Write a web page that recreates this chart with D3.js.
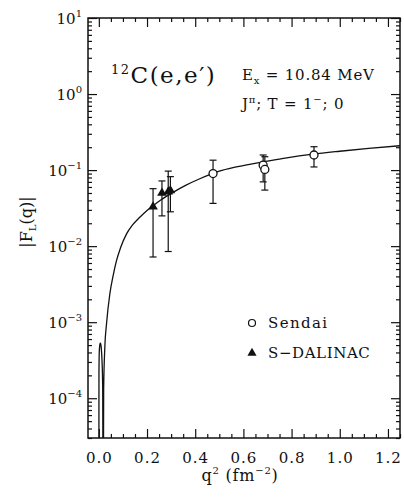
<!DOCTYPE html>
<html>
<head>
<meta charset="utf-8">
<script src="https://cdn.jsdelivr.net/npm/d3@7"></script>
<style>
  body { margin: 0; background: #fff; }
  svg text { font-family: "DejaVu Serif", serif; fill: #111; }
</style>
</head>
<body>
<div id="graph"></div>
<script>
// data

var xTicks = [0.0, 0.2, 0.4, 0.6, 0.8, 1.0, 1.2];
var xTickLabels = ["0.0", "0.2", "0.4", "0.6", "0.8", "1.0", "1.2"];
var yDecades = [1e1, 1e0, 1e-1, 1e-2, 1e-3, 1e-4];
var yExponents = ["1", "0", "\u22121", "\u22122", "\u22123", "\u22124"];

// theory curve, q^2 (fm^-2) vs |F_L(q)|
var curveQ2 = [0.0, 0.0005, 0.002, 0.005, 0.007, 0.010, 0.013, 0.016, 0.018,
  0.020, 0.025, 0.032, 0.046, 0.060, 0.073, 0.09, 0.115, 0.14, 0.17, 0.20,
  0.225, 0.26, 0.308, 0.36, 0.419, 0.50, 0.557, 0.62, 0.682, 0.78, 0.889,
  1.0, 1.12, 1.25];
var curveF = [1e-6, 2.2e-4, 4.2e-4, 5.2e-4, 5.3e-4, 4.6e-4, 3.2e-4, 1.4e-4, 1e-6,
  1.3e-4, 4.8e-4, 9.6e-4, 2.4e-3, 4.2e-3, 6.4e-3, 9.5e-3, 0.0145, 0.019, 0.024, 0.0295,
  0.034, 0.041, 0.051, 0.063, 0.077, 0.097, 0.108, 0.118, 0.128, 0.145, 0.162,
  0.177, 0.193, 0.209];

// Sendai (open circles)
var sendaiQ2 = [0.474, 0.682, 0.689, 0.893];
var sendaiF = [0.090, 0.116, 0.102, 0.158];
var sendaiLo = [0.0365, 0.070, 0.0546, 0.110];
var sendaiHi = [0.135, 0.158, 0.150, 0.203];

// S-DALINAC (filled triangles)
var dalQ2 = [0.225, 0.262, 0.288, 0.297];
var dalF = [0.033, 0.050, 0.052, 0.054];
var dalLo = [0.0072, 0.025, 0.0085, 0.0283];
var dalHi = [0.057, 0.072, 0.097, 0.082];

var svgWidth = 404;
var svgHeight = 497;
var plotL = 88, plotR = 400, plotT = 18, plotB = 438;

var svg = d3.select('#graph')
  .append('svg')
  .attr('width', svgWidth)
  .attr('height', svgHeight);

var x = d3.scaleLinear().domain([-0.045, 1.25]).range([plotL, plotR]);
var y = d3.scaleLog().domain([3e-5, 10]).range([plotB, plotT]);

// minor tick values
var yMinor = [];
for (var e = -5; e <= 0; e++) {
  for (var k = 2; k <= 9; k++) {
    var v = k * Math.pow(10, e);
    if (v >= 3e-5 && v <= 10) yMinor.push(v);
  }
}
var xMinor = [];
for (var i = 1; i <= 25; i++) {
  if (i % 4 !== 0) xMinor.push(i * 0.05);
}

function addAxis(axis, tx, ty) {
  var g = svg.append('g')
    .attr('transform', 'translate(' + tx + ',' + ty + ')')
    .call(axis);
  g.select('.domain').remove();
  g.selectAll('line').attr('stroke', '#111').attr('stroke-width', 1.2);
  return g;
}

// ticks point inwards on all four sides
addAxis(d3.axisLeft(y).tickValues(yDecades).tickSize(-9).tickFormat(''), plotL, 0);
addAxis(d3.axisLeft(y).tickValues(yMinor).tickSize(-4).tickFormat(''), plotL, 0);
addAxis(d3.axisRight(y).tickValues(yDecades).tickSize(-9).tickFormat(''), plotR, 0);
addAxis(d3.axisRight(y).tickValues(yMinor).tickSize(-4).tickFormat(''), plotR, 0);

var xb = addAxis(d3.axisBottom(x).tickValues(xTicks).tickSize(-9).tickPadding(14)
  .tickFormat(function (d, i) { return xTickLabels[i]; }), 0, plotB);
xb.selectAll('text').attr('font-size', 15).attr('letter-spacing', 1)
  .attr('font-family', '"DejaVu Serif", serif').attr('fill', '#111');
addAxis(d3.axisBottom(x).tickValues(xMinor).tickSize(-4).tickFormat(''), 0, plotB);
addAxis(d3.axisTop(x).tickValues(xTicks).tickSize(-9).tickFormat(''), 0, plotT);
addAxis(d3.axisTop(x).tickValues(xMinor).tickSize(-4).tickFormat(''), 0, plotT);

// frame
svg.append('rect')
  .attr('x', plotL).attr('y', plotT)
  .attr('width', plotR - plotL).attr('height', plotB - plotT)
  .attr('fill', 'none').attr('stroke', '#111').attr('stroke-width', 1.5);

// y tick labels as 10^n
yDecades.forEach(function (d, i) {
  var t = svg.append('text')
    .attr('x', plotL - 6)
    .attr('y', y(d) + 6)
    .attr('text-anchor', 'end')
    .attr('font-size', 15);
  t.append('tspan').text('10');
  t.append('tspan').attr('dy', -7).attr('font-size', 10).text(yExponents[i]);
});

// clip for the curve
svg.append('clipPath').attr('id', 'plotclip')
  .append('rect')
  .attr('x', plotL).attr('y', plotT)
  .attr('width', plotR - plotL).attr('height', plotB - plotT);

var curvePts = curveQ2.map(function (q, i) { return [q, curveF[i]]; });
var line = d3.line()
  .x(function (d) { return x(d[0]); })
  .y(function (d) { return y(d[1]); })
  .curve(d3.curveMonotoneX);

svg.append('path')
  .datum(curvePts)
  .attr('clip-path', 'url(#plotclip)')
  .attr('d', line)
  .attr('fill', 'none')
  .attr('stroke', '#111')
  .attr('stroke-width', 1.3);

// error bars
function errorBars(qs, lo, hi) {
  var g = svg.append('g').attr('stroke', '#111').attr('stroke-width', 1.2);
  qs.forEach(function (q, i) {
    var cx = x(q);
    g.append('line').attr('x1', cx).attr('x2', cx).attr('y1', y(lo[i])).attr('y2', y(hi[i]));
    g.append('line').attr('x1', cx - 3.5).attr('x2', cx + 3.5).attr('y1', y(lo[i])).attr('y2', y(lo[i]));
    g.append('line').attr('x1', cx - 3.5).attr('x2', cx + 3.5).attr('y1', y(hi[i])).attr('y2', y(hi[i]));
  });
}
errorBars(sendaiQ2, sendaiLo, sendaiHi);
errorBars(dalQ2, dalLo, dalHi);

svg.selectAll('circle.sendai')
  .data(sendaiQ2)
  .enter()
  .append('circle')
  .attr('class', 'sendai')
  .attr('cx', function (d) { return x(d); })
  .attr('cy', function (d, i) { return y(sendaiF[i]); })
  .attr('r', 4)
  .attr('fill', '#fff')
  .attr('stroke', '#111')
  .attr('stroke-width', 1.3);

var tri = d3.symbol().type(d3.symbolTriangle).size(40);
svg.selectAll('path.dal')
  .data(dalQ2)
  .enter()
  .append('path')
  .attr('class', 'dal')
  .attr('d', tri)
  .attr('transform', function (d, i) { return 'translate(' + x(d) + ',' + y(dalF[i]) + ')'; })
  .attr('fill', '#111');

// legend
svg.append('circle').attr('cx', 252).attr('cy', 323).attr('r', 3.5)
  .attr('fill', '#fff').attr('stroke', '#111').attr('stroke-width', 1.2);
svg.append('text').attr('x', 268).attr('y', 328).attr('font-size', 15)
  .attr('letter-spacing', 1.4).text('Sendai');
svg.append('path').attr('d', d3.symbol().type(d3.symbolTriangle).size(36))
  .attr('transform', 'translate(252,353)').attr('fill', '#111');
svg.append('text').attr('x', 268).attr('y', 358).attr('font-size', 15)
  .attr('letter-spacing', 0.6).text('S\u2212DALINAC');

// annotations
var title = svg.append('text').attr('x', 111).attr('y', 83).attr('font-size', 23)
  .attr('letter-spacing', 1.5);
title.append('tspan').attr('font-size', 13).attr('dy', -9).text('12');
title.append('tspan').attr('dy', 9).text('C(e,e\u2032)');

var ex = svg.append('text').attr('x', 242).attr('y', 80).attr('font-size', 15)
  .attr('letter-spacing', 0.8);
ex.append('tspan').text('E');
ex.append('tspan').attr('font-size', 10).attr('dy', 4).text('x');
ex.append('tspan').attr('dy', -4).text(' = 10.84 MeV');

var jp = svg.append('text').attr('x', 242).attr('y', 109).attr('font-size', 15)
  .attr('letter-spacing', 0.8);
jp.append('tspan').text('J');
jp.append('tspan').attr('font-size', 10).attr('dy', -6).text('\u03c0');
jp.append('tspan').attr('dy', 6).text('; T = 1');
jp.append('tspan').attr('font-size', 10).attr('dy', -6).text('\u2212');
jp.append('tspan').attr('dy', 6).text('; 0');

// axis titles
var xl = svg.append('text').attr('x', 240).attr('y', 481).attr('font-size', 16)
  .attr('text-anchor', 'middle').attr('letter-spacing', 0.8);
xl.append('tspan').text('q');
xl.append('tspan').attr('font-size', 10).attr('dy', -7).text('2');
xl.append('tspan').attr('dy', 7).text(' (fm');
xl.append('tspan').attr('font-size', 10).attr('dy', -7).text('\u22122');
xl.append('tspan').attr('dy', 7).text(')');

var yl = svg.append('text')
  .attr('transform', 'translate(32,222) rotate(-90)')
  .attr('font-size', 16)
  .attr('text-anchor', 'middle');
yl.append('tspan').text('|F');
yl.append('tspan').attr('font-size', 10).attr('dy', 4).text('L');
yl.append('tspan').attr('dy', -4).text('(q)|');
</script>
</body>
</html>
